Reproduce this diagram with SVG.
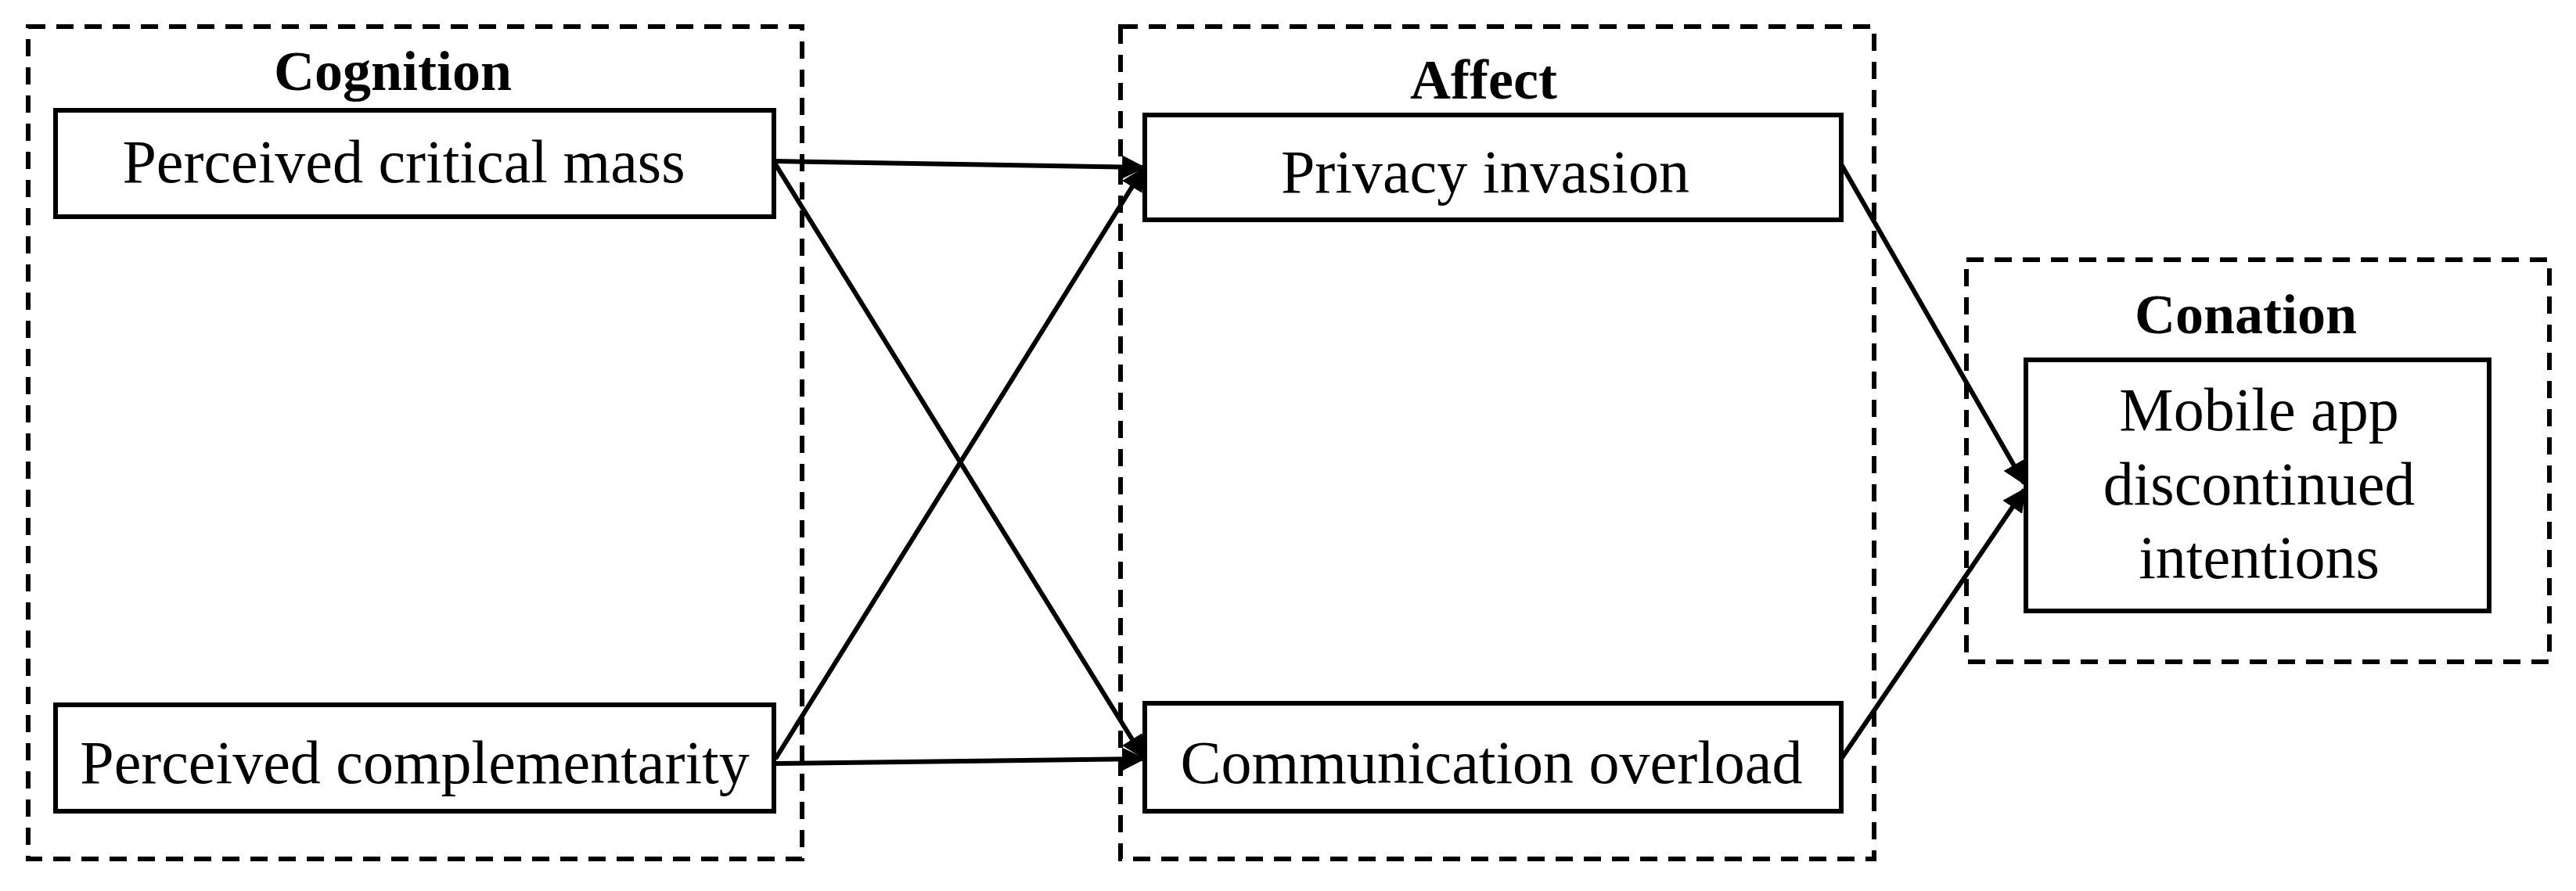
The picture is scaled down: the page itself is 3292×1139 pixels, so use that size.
<svg xmlns="http://www.w3.org/2000/svg" width="3292" height="1139" viewBox="0 0 3292 1139">
<style>
.grp{fill:none;stroke:#000;stroke-width:6;stroke-dasharray:22 14}
.box{fill:#fff;stroke:#000;stroke-width:6}
.t{font-family:"Liberation Serif",serif;font-size:78px;text-anchor:middle;fill:#000}
.h{font-family:"Liberation Serif",serif;font-size:72px;font-weight:bold;text-anchor:middle;fill:#000}
.c{stroke:#000;stroke-width:6;fill:none;marker-end:url(#ah)}
</style>
<defs><marker id="ah" viewBox="0 0 10 10" refX="9" refY="5" markerWidth="5" markerHeight="5" orient="auto" markerUnits="strokeWidth"><path d="M0,0 L10,5 L0,10 z" fill="#000"/></marker></defs>
<g id="cognition"><rect class="grp" x="36" y="34" width="989" height="1064"/><text class="h" x="502" y="115">Cognition</text></g>
<g id="affect"><rect class="grp" x="1432" y="34" width="963" height="1064"/><text class="h" x="1896" y="126">Affect</text></g>
<g id="conation"><rect class="grp" x="2513" y="332" width="745" height="514"/><text class="h" x="2870" y="426">Conation</text></g>
<g id="pcm"><rect class="box" x="71" y="141" width="918" height="136"/><text class="t" x="516" y="233">Perceived critical mass</text></g>
<g id="pc"><rect class="box" x="71" y="901" width="918" height="136"/><text class="t" x="530" y="1001">Perceived complementarity</text></g>
<g id="pi"><rect class="box" x="1463" y="147" width="890" height="134"/><text class="t" x="1898" y="246">Privacy invasion</text></g>
<g id="co"><rect class="box" x="1463" y="899" width="890" height="138"/><text class="t" x="1906" y="1001">Communication overload</text></g>
<g id="mobile"><rect class="box" x="2589" y="460" width="592" height="321"/><text class="t" x="2887" y="550">Mobile app</text><text class="t" x="2887" y="645">discontinued</text><text class="t" x="2887" y="739">intentions</text></g>
<g id="connectors">
<line class="c" x1="991" y1="206" x2="1461" y2="214"/>
<line class="c" x1="991" y1="210" x2="1461" y2="968"/>
<line class="c" x1="991" y1="970" x2="1461" y2="216"/>
<line class="c" x1="991" y1="976" x2="1461" y2="970"/>
<line class="c" x1="2353" y1="210" x2="2587" y2="618"/>
<line class="c" x1="2353" y1="970" x2="2587" y2="626"/>
</g>
</svg>
